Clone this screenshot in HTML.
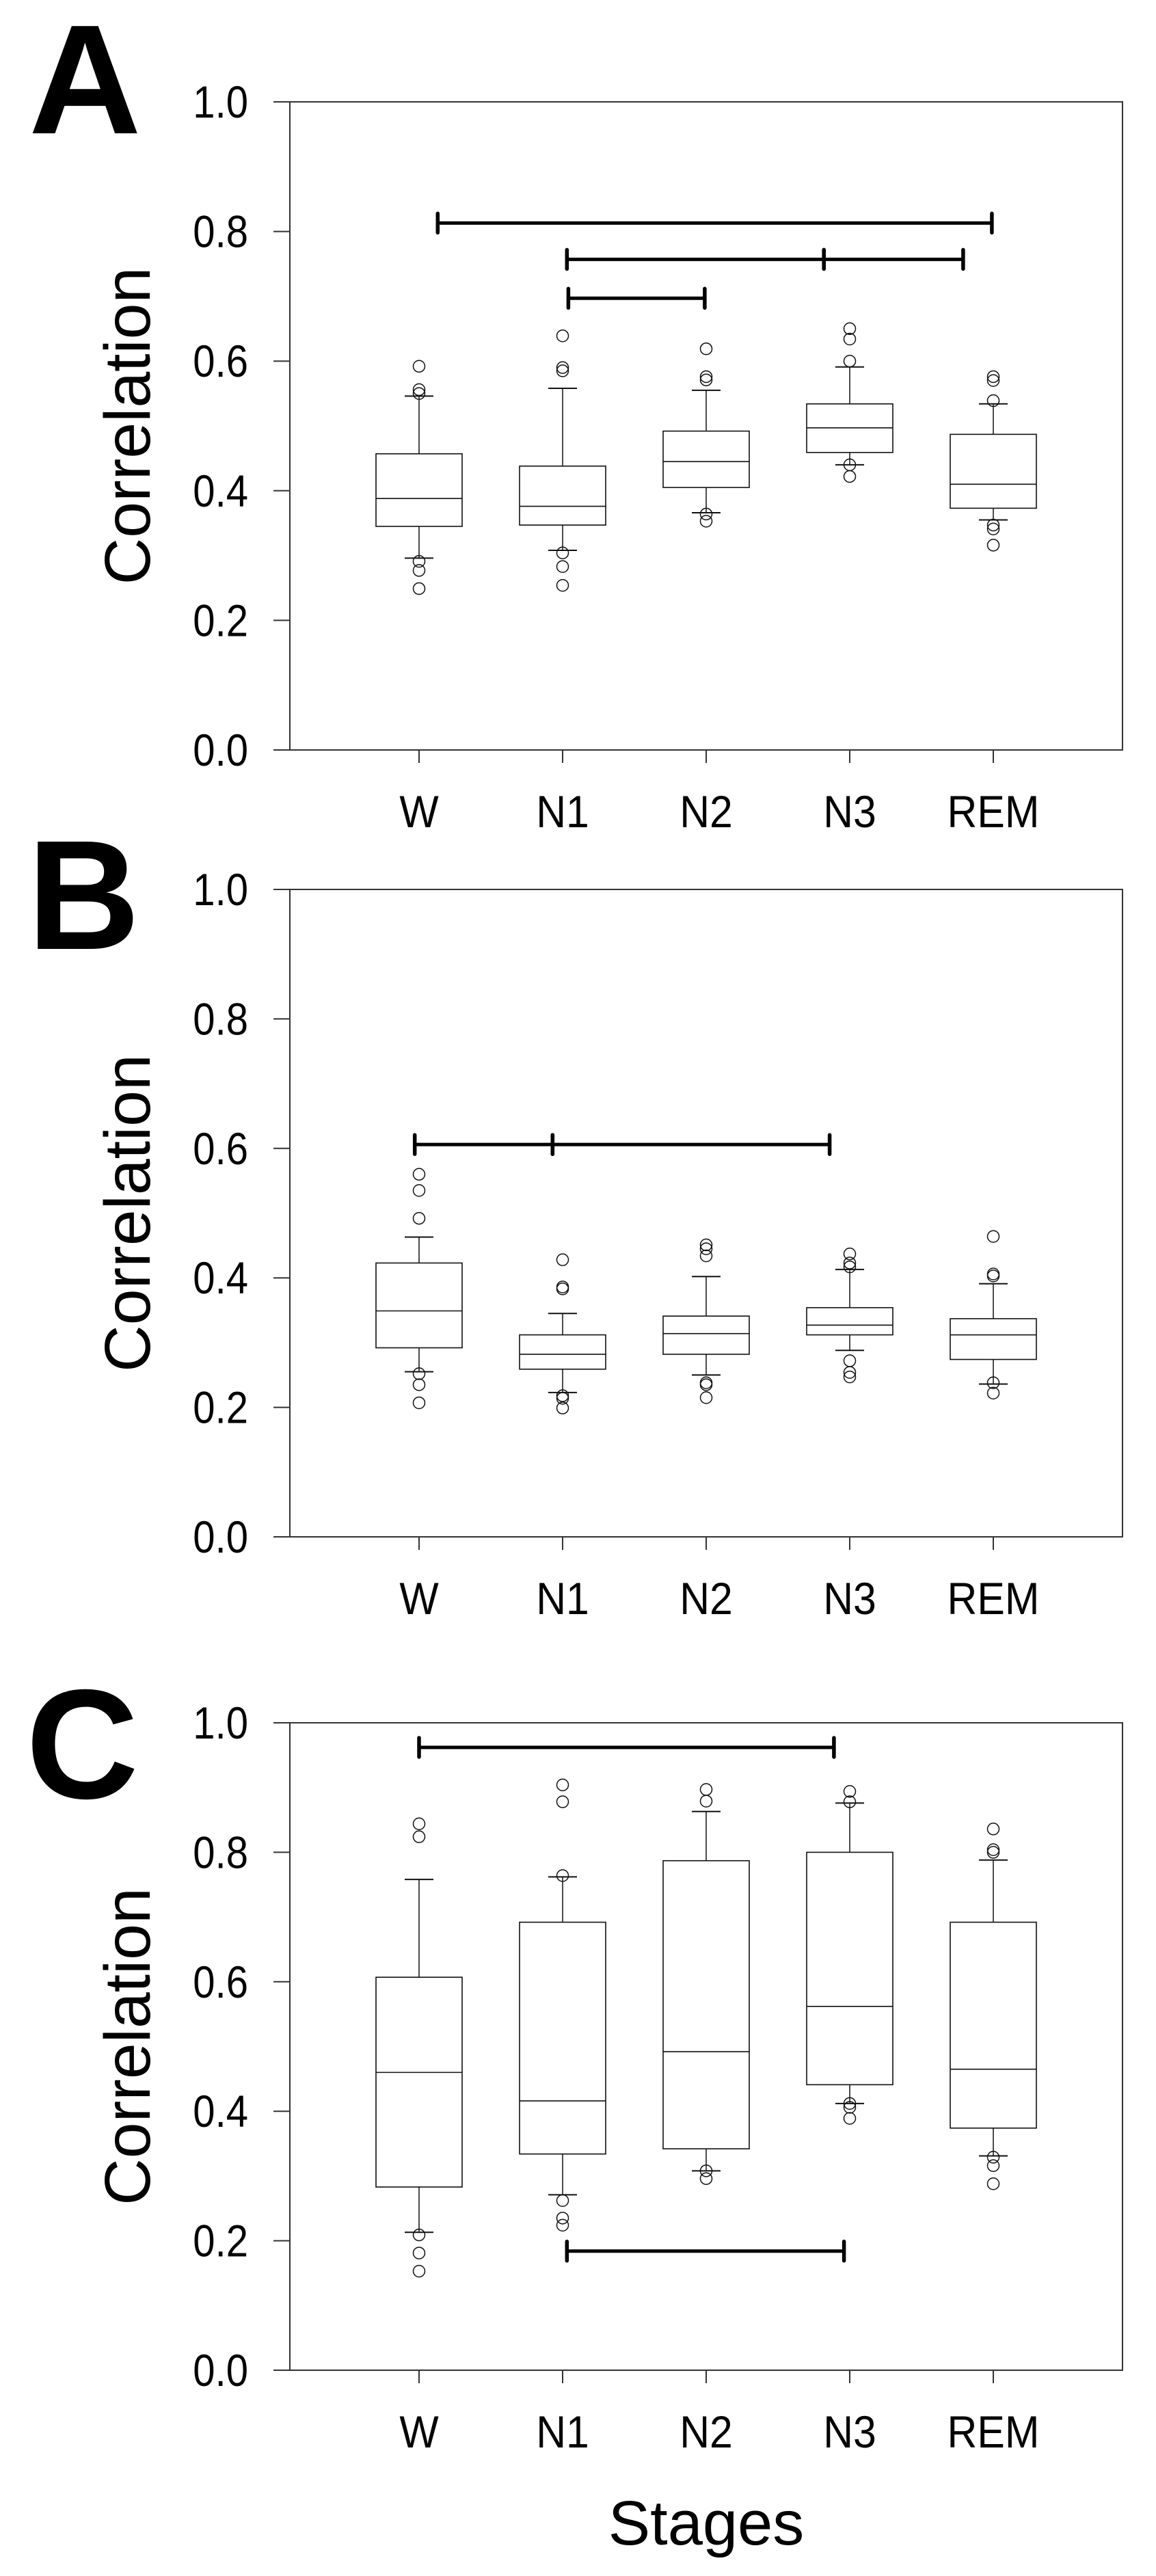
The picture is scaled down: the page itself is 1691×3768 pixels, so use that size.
<!DOCTYPE html>
<html><head><meta charset="utf-8"><style>
html,body{margin:0;padding:0;background:#fff;}
svg{display:block;}
text{font-family:"Liberation Sans",Arial,sans-serif;fill:#000;}
</style></head><body>
<svg id="fig" width="1691" height="3768" viewBox="0 0 1691 3768" xmlns="http://www.w3.org/2000/svg"></svg>
<script>
const categories = ["W","N1","N2","N3","REM"];
const yTicks = [0.0,0.2,0.4,0.6,0.8,1.0];
const yTickLabels = ["0.0","0.2","0.4","0.6","0.8","1.0"];

// Panel A
const aQ1 = [0.345,0.347,0.405,0.459,0.373];
const aMed = [0.388,0.376,0.445,0.497,0.410];
const aQ3 = [0.457,0.438,0.492,0.534,0.487];
const aLo = [0.296,0.308,0.366,0.440,0.355];
const aHi = [0.546,0.558,0.555,0.591,0.534];
const aOut = [[0.592,0.556,0.550,0.291,0.277,0.249],[0.639,0.590,0.585,0.304,0.283,0.254],[0.619,0.576,0.571,0.364,0.353],[0.650,0.634,0.600,0.440,0.422],[0.576,0.570,0.539,0.347,0.341,0.316]];
const aSigVal = [0.813,0.757,0.757,0.697];
const aSigFrom = [0.13,1.03,2.82,1.04];
const aSigTo = [3.99,2.82,3.79,1.99];

// Panel B
const bQ1 = [0.292,0.259,0.282,0.312,0.274];
const bMed = [0.349,0.282,0.314,0.327,0.312];
const bQ3 = [0.423,0.312,0.341,0.354,0.337];
const bLo = [0.255,0.223,0.250,0.288,0.236];
const bHi = [0.463,0.345,0.402,0.413,0.391];
const bOut = [[0.560,0.535,0.492,0.252,0.235,0.207],[0.428,0.386,0.383,0.218,0.214,0.199],[0.451,0.445,0.434,0.238,0.235,0.215],[0.437,0.423,0.417,0.272,0.254,0.247],[0.464,0.406,0.403,0.238,0.222]];
const bSigVal = [0.606,0.606];
const bSigFrom = [-0.03,0.93];
const bSigTo = [0.93,2.86];

// Panel C
const cQ1 = [0.283,0.334,0.342,0.441,0.374];
const cMed = [0.460,0.416,0.492,0.562,0.465];
const cQ3 = [0.607,0.692,0.787,0.800,0.692];
const cLo = [0.213,0.271,0.308,0.412,0.331];
const cHi = [0.758,0.762,0.863,0.876,0.788];
const cOut = [[0.844,0.824,0.209,0.181,0.153],[0.904,0.878,0.764,0.262,0.235,0.224],[0.897,0.879,0.308,0.296],[0.894,0.878,0.412,0.406,0.389],[0.836,0.804,0.800,0.329,0.316,0.288]];
const cSigVal = [0.962,0.184];
const cSigFrom = [0.0,1.03];
const cSigTo = [2.89,2.96];

const NS="http://www.w3.org/2000/svg";
const svg=document.getElementById('fig');
function el(tag,attrs,parent){const e=document.createElementNS(NS,tag);for(const k in attrs)e.setAttribute(k,attrs[k]);(parent||svg).appendChild(e);return e;}

function panel(cfg){
  const g=el('g',{});
  
  
  const L=424,R=1642,T=cfg.top,B=cfg.bottom;
  const xs=i=>613+i*210;
  const ys=v=>B-v*(B-T);
  const lt=el('text',{x:cfg.lx,y:cfg.ly,'font-size':228,'font-weight':'bold'},g);
  lt.textContent=cfg.letter;
  
  
  const fr=el('rect',{x:L,y:T,width:R-L,height:B-T,fill:'none',stroke:'#333','stroke-width':2},g);
  
  
  yTicks.forEach((v,i)=>{
    const t=el('line',{x1:400,x2:L,y1:ys(v),y2:ys(v),stroke:'#333','stroke-width':2},g);
    
    
    const tx=el('text',{x:0,y:0,'font-size':66,'text-anchor':'end',transform:`translate(363,${ys(v)+23}) scale(0.88,1)`},g);
    tx.textContent=yTickLabels[i];
    
    
  });
  categories.forEach((c,i)=>{
    const t=el('line',{x1:xs(i),x2:xs(i),y1:B,y2:B+19,stroke:'#333','stroke-width':2},g);
    
    
    const tx=el('text',{x:0,y:0,'font-size':66,'text-anchor':'middle',transform:`translate(${xs(i)},${B+113}) scale(0.92,1)`},g);
    tx.textContent=c;
    
    
  });
  const yl=el('text',{x:0,y:0,'font-size':95,'text-anchor':'middle',transform:`translate(219,${(T+B)/2}) rotate(-90)`},g);
  yl.textContent='Correlation';
  
  
  const d=cfg.data;
  categories.forEach((c,i)=>{
    const bg=el('g',{},g);
    
    
    const x=xs(i),hw=63,cw=21;
    el('line',{x1:x,x2:x,y1:ys(d.hi[i]),y2:ys(d.q3[i]),stroke:'#111','stroke-width':1.5},bg);
    el('line',{x1:x,x2:x,y1:ys(d.q1[i]),y2:ys(d.lo[i]),stroke:'#111','stroke-width':1.5},bg);
    el('line',{x1:x-cw,x2:x+cw,y1:ys(d.hi[i]),y2:ys(d.hi[i]),stroke:'#111','stroke-width':2},bg);
    el('line',{x1:x-cw,x2:x+cw,y1:ys(d.lo[i]),y2:ys(d.lo[i]),stroke:'#111','stroke-width':2},bg);
    el('rect',{x:x-hw,y:ys(d.q3[i]),width:2*hw,height:ys(d.q1[i])-ys(d.q3[i]),fill:'none',stroke:'#111','stroke-width':1.6},bg);
    el('line',{x1:x-hw,x2:x+hw,y1:ys(d.med[i]),y2:ys(d.med[i]),stroke:'#111','stroke-width':1.6},bg);
    d.out[i].forEach(v=>{
      const o=el('circle',{cx:x,cy:ys(v),r:8.5,fill:'none',stroke:'#111','stroke-width':1.5},bg);
      
      
    });
  });
  d.sv.forEach((v,k)=>{
    const sg=el('g',{},g);
    
    
    const x1=xs(d.sf[k]),x2=xs(d.st[k]),y=ys(v);
    el('line',{x1:x1,x2:x2,y1:y,y2:y,stroke:'#000','stroke-width':5},sg);
    el('line',{x1:x1,x2:x1,y1:y-14,y2:y+14,stroke:'#000','stroke-width':5.5,'stroke-linecap':'round'},sg);
    el('line',{x1:x2,x2:x2,y1:y-14,y2:y+14,stroke:'#000','stroke-width':5.5,'stroke-linecap':'round'},sg);
  });
}
panel({letter:'A',lx:42,ly:195,top:149,bottom:1097,data:{q1:aQ1,med:aMed,q3:aQ3,lo:aLo,hi:aHi,out:aOut,sv:aSigVal,sf:aSigFrom,st:aSigTo}});
panel({letter:'B',lx:40,ly:1388,top:1301,bottom:2248,data:{q1:bQ1,med:bMed,q3:bQ3,lo:bLo,hi:bHi,out:bOut,sv:bSigVal,sf:bSigFrom,st:bSigTo}});
panel({letter:'C',lx:38,ly:2630,top:2520,bottom:3467,data:{q1:cQ1,med:cMed,q3:cQ3,lo:cLo,hi:cHi,out:cOut,sv:cSigVal,sf:cSigFrom,st:cSigTo}});
const xt=el('text',{x:1033,y:3722,'font-size':92,'text-anchor':'middle'});
xt.textContent='Stages';


</script>
</body></html>
